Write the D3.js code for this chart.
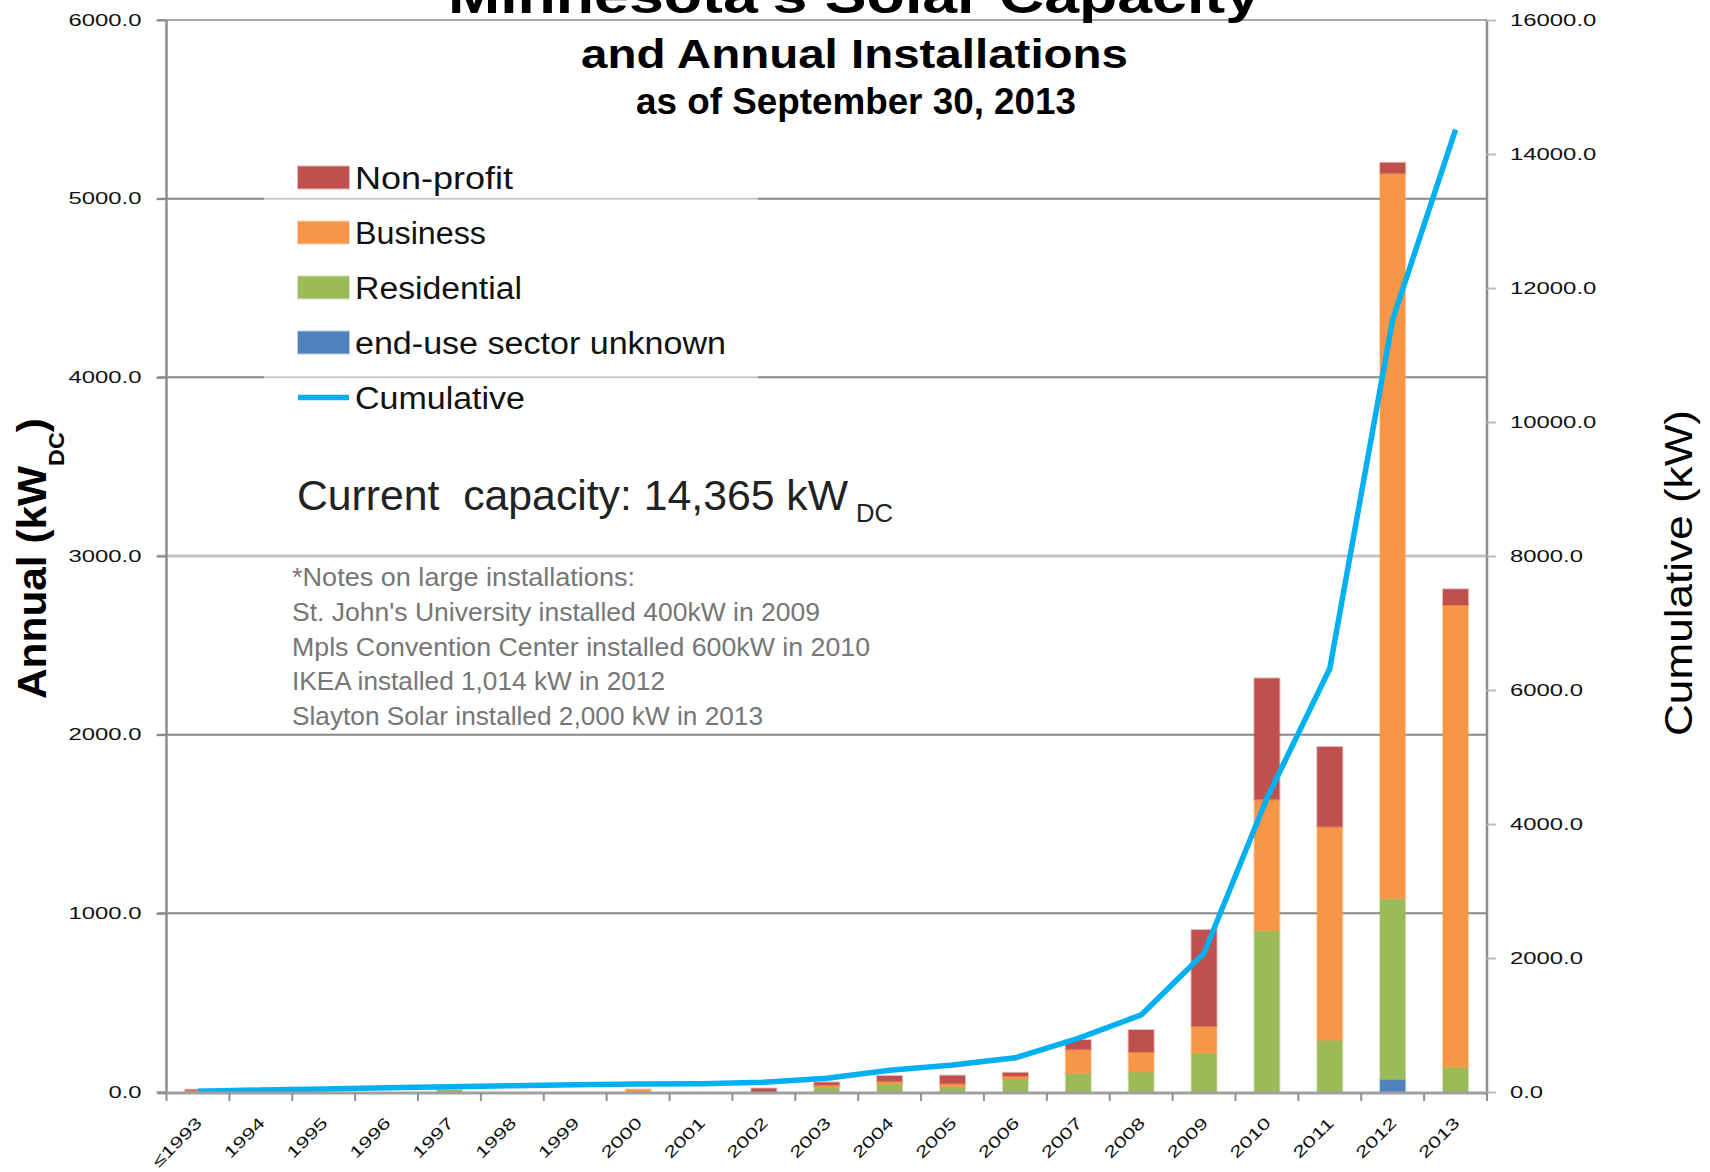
<!DOCTYPE html>
<html><head><meta charset="utf-8">
<script src="https://cdn.jsdelivr.net/npm/d3@7"></script>
<style>html,body{margin:0;padding:0;background:#fff;overflow:hidden}</style>
</head><body>
<svg id="chart" width="1710" height="1172"></svg>
<script>
// ---------------- data (kW DC) ----------------
const categories = ["≤1993","1994","1995","1996","1997","1998","1999","2000","2001","2002","2003","2004","2005","2006","2007","2008","2009","2010","2011","2012","2013"];
const unknownSector = [0,0,0,0,0,0,0,0,0,0,0,0,0,0,0,0,0,0,0,71,0];
const residential   = [0,0,0,0,12,0,0,0,0,0,28,45,30,73,105,112,217,903,290,1011,138];
const business      = [8,0,0,0,0,0,0,15,0,0,12,15,17,17,134,112,152,735,1195,4060,2588];
const nonprofit     = [5,0,0,0,0,0,0,0,0,20,14,30,45,18,52,123,538,677,446,59,88];
const cumulative    = [10,30,45,62,80,95,108,120,125,145,204,324,403,510,800,1150,2070,4385,6320,11530,14365];
const leftTicks  = [0,1000,2000,3000,4000,5000,6000];
const rightTicks = [0,2000,4000,6000,8000,10000,12000,14000,16000];
const seriesNames = ["Non-profit","Business","Residential","end-use sector unknown","Cumulative"];
const titleLines = ["Minnesota's Solar Capacity","and Annual Installations","as of September 30, 2013"];
const capacityText = "Current  capacity: 14,365 kW";
const notes = ["*Notes on large installations:","St. John's University installed 400kW in 2009","Mpls Convention Center installed 600kW in 2010","IKEA installed 1,014 kW in 2012","Slayton Solar installed 2,000 kW in 2013"];

// ---------------- setup ----------------
const FONT = "'Liberation Sans', Arial, sans-serif";
const colors = {unknown:"#4F81BD", residential:"#9BBB59", business:"#F79646", nonprofit:"#C0504D", cumulative:"#00B0F0"};
const svg = d3.select("#chart").style("font-family", FONT);
const m = {left:166.5, right:1487, top:20, bottom:1092};

const x = d3.scaleBand().domain(categories).range([m.left, m.right]).paddingInner(0).paddingOuter(0);
const yL = d3.scaleLinear().domain([0,6000]).range([m.bottom, m.top]);
const yR = d3.scaleLinear().domain([0,16000]).range([m.bottom, m.top]);
const bw = x.bandwidth();

// gridlines
svg.append("g").selectAll("line").data(leftTicks.filter(d=>d>0)).join("line")
  .attr("x1", m.left-9).attr("x2", m.right)
  .attr("y1", d=>yL(d)).attr("y2", d=>yL(d))
  .attr("stroke", d=> d===3000 ? "#c4c4c4" : (d===6000 ? "#a8a8a8" : "#878787"))
  .attr("stroke-width", d=> d===3000 ? 3.2 : 2);

// legend background (semi-transparent white)
svg.append("rect").attr("x",264).attr("y",140).attr("width",494).attr("height",285)
  .attr("fill","#fff").attr("opacity",0.55);

// stacked bars
const table = categories.map((c,i)=>({cat:c, unknown:unknownSector[i], residential:residential[i], business:business[i], nonprofit:nonprofit[i]}));
const keys = ["unknown","residential","business","nonprofit"];
const stacked = d3.stack().keys(keys)(table);
svg.append("g").selectAll("g").data(stacked).join("g")
  .attr("fill", s=>colors[s.key]).attr("stroke", s=>colors[s.key])
  .attr("stroke-opacity",0.35).attr("stroke-width",2)
  .selectAll("rect").data(s=>s.filter(d=>d[1]-d[0]>0)).join("rect")
  .attr("x", d=>x(d.data.cat)+bw*0.3)
  .attr("width", bw*0.4)
  .attr("y", d=>yL(d[1]))
  .attr("height", d=>yL(d[0])-yL(d[1]));

// cumulative line
const lineData = categories.map((c,i)=>({cat:c, v:cumulative[i]}));
svg.append("path").datum(lineData)
  .attr("fill","none").attr("stroke",colors.cumulative).attr("stroke-width",5.5)
  .attr("stroke-linejoin","round")
  .attr("d", d3.line().x(d=>x(d.cat)+bw/2).y(d=>yR(d.v)));

// axes lines
svg.append("line").attr("x1",m.left).attr("x2",m.left).attr("y1",m.top).attr("y2",m.bottom+2).attr("stroke","#8c8c8c").attr("stroke-width",2.5);
svg.append("line").attr("x1",m.right).attr("x2",m.right).attr("y1",m.top).attr("y2",m.bottom+2).attr("stroke","#8c8c8c").attr("stroke-width",2.5);
svg.append("line").attr("x1",m.left-9).attr("x2",m.right).attr("y1",m.bottom+1).attr("y2",m.bottom+1).attr("stroke","#a0a0a0").attr("stroke-width",3);

// left axis
const fmt = d3.format(".1f");
const labW = s => s.replace(/[^0-9]/g,"").length*13.3 + (s.includes(".")?6.5:0);
const gl = svg.append("g").attr("transform",`translate(${m.left},0)`)
  .call(d3.axisLeft(yL).tickValues(leftTicks).tickFormat(fmt).tickSize(10).tickPadding(15));
gl.select(".domain").remove();
gl.selectAll(".tick line").attr("stroke","#8c8c8c").attr("stroke-width",2);
gl.selectAll(".tick text").attr("font-family",FONT).attr("font-size",16).attr("fill","#111")
  .attr("textLength", d=>labW(fmt(d))).attr("lengthAdjust","spacingAndGlyphs");

// right axis
const gr = svg.append("g").attr("transform",`translate(${m.right},0)`)
  .call(d3.axisRight(yR).tickValues(rightTicks).tickFormat(fmt).tickSize(9).tickPadding(14));
gr.select(".domain").remove();
gr.selectAll(".tick line").attr("stroke","#bdbdbd").attr("stroke-width",2);
gr.selectAll(".tick text").attr("font-family",FONT).attr("font-size",16).attr("fill","#111")
  .attr("textLength", d=>labW(fmt(d))).attr("lengthAdjust","spacingAndGlyphs");

// x ticks at category boundaries
svg.append("g").selectAll("line").data(categories).join("line")
  .attr("x1", d=>x(d)).attr("x2", d=>x(d))
  .attr("y1", m.bottom+1).attr("y2", m.bottom+9)
  .attr("stroke","#909090").attr("stroke-width",2);
svg.append("line").attr("x1",m.right).attr("x2",m.right).attr("y1",m.bottom+1).attr("y2",m.bottom+9).attr("stroke","#909090").attr("stroke-width",2);

// x labels
svg.append("g").selectAll("text").data(categories).join("text")
  .attr("transform", d=>`translate(${x(d)+bw/2+5},${1124}) rotate(-45)`)
  .attr("text-anchor","end").attr("font-size",16).attr("fill","#111")
  .attr("textLength", d=>d.length*12.5).attr("lengthAdjust","spacingAndGlyphs")
  .text(d=>d);

// titles
const tl = [
  {x:448, y:13, size:50, len:812},
  {x:581, y:68, size:40, len:547},
  {x:636, y:114, size:36, len:440}
];
titleLines.forEach((t,i)=>{
  svg.append("text").attr("x",tl[i].x).attr("y",tl[i].y).attr("font-size",tl[i].size)
    .attr("font-weight","bold").attr("fill","#000")
    .attr("textLength",tl[i].len).attr("lengthAdjust","spacingAndGlyphs").text(t);
});

// legend
const legKeys = ["nonprofit","business","residential","unknown","cumulative"];
const legLen = [158,131,167,371,170];
legKeys.forEach((k,i)=>{
  const cy = 177.5 + i*55;
  if (k==="cumulative") {
    svg.append("line").attr("x1",298).attr("x2",349).attr("y1",cy).attr("y2",cy)
      .attr("stroke",colors.cumulative).attr("stroke-width",5.5);
  } else {
    svg.append("rect").attr("x",298).attr("y",cy-11).attr("width",51).attr("height",22)
      .attr("fill",colors[k]).attr("stroke",colors[k]).attr("stroke-opacity",0.4).attr("stroke-width",2);
  }
  svg.append("text").attr("x",355).attr("y",cy+11).attr("font-size",31).attr("fill","#111")
    .attr("textLength",legLen[i]).attr("lengthAdjust","spacingAndGlyphs").text(seriesNames[i]);
});

// current capacity
svg.append("text").attr("x",297).attr("y",510).attr("font-size",42).attr("fill","#222")
  .style("white-space","pre").attr("textLength",551).attr("lengthAdjust","spacingAndGlyphs").text(capacityText);
svg.append("text").attr("x",856).attr("y",522).attr("font-size",25).attr("fill","#222")
  .attr("textLength",37).attr("lengthAdjust","spacingAndGlyphs").text("DC");

// notes
const noteY = [586,621,656,690,725];
const noteLen = [343,528,578,373,471];
notes.forEach((t,i)=>{
  svg.append("text").attr("x",292).attr("y",noteY[i]).attr("font-size",25).attr("fill","#767676")
    .attr("textLength",noteLen[i]).attr("lengthAdjust","spacingAndGlyphs").text(t);
});

// axis titles
const at = svg.append("text").attr("font-size",40).attr("font-weight","bold").attr("fill","#000");
at.append("tspan").text("Annual (kW");
at.append("tspan").attr("font-size",22).attr("dy",18).text("DC");
at.append("tspan").attr("dy",-18).text(")");
const bb = at.node().getBBox();
at.attr("transform",`translate(46,699) rotate(-90) scale(${281/bb.width},1)`);

svg.append("text").attr("transform","translate(1692,736) rotate(-90)")
  .attr("font-size",39).attr("fill","#000")
  .attr("textLength",326).attr("lengthAdjust","spacingAndGlyphs").text("Cumulative (kW)");
</script>
</body></html>
